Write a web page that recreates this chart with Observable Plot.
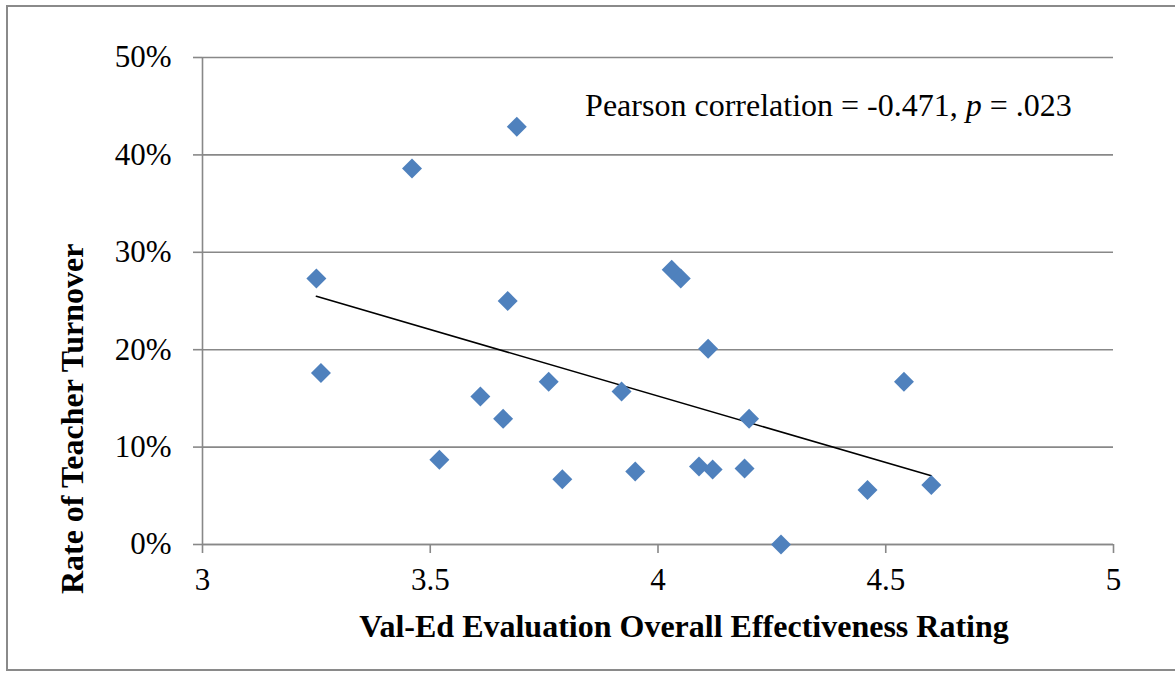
<!DOCTYPE html>
<html>
<head>
<meta charset="utf-8">
<script src="https://cdn.jsdelivr.net/npm/d3@7"></script>
<script src="https://cdn.jsdelivr.net/npm/@observablehq/plot@0.6"></script>
<style>
  html, body { margin: 0; padding: 0; background: #fff; overflow: hidden; }
  #wrap { position: relative; width: 1175px; height: 673px; overflow: hidden; }
  #border { position: absolute; left: 6px; top: 5px; width: 1200px; height: 666px; border: 2px solid #8a8a8a; box-sizing: border-box; pointer-events: none; }
  svg text { font-family: 'Liberation Serif', 'Times New Roman', serif; }
</style>
</head>
<body>
<div id="wrap"><div id="chart"></div><div id="border"></div></div>
<script>
const rating = [3.25, 3.26, 3.46, 3.52, 3.61, 3.66, 3.67, 3.69, 3.76, 3.79, 3.92, 3.95, 4.03, 4.05, 4.09, 4.11, 4.12, 4.19, 4.20, 4.27, 4.46, 4.54, 4.60];
const turnover = [0.273, 0.176, 0.386, 0.087, 0.152, 0.129, 0.250, 0.429, 0.167, 0.067, 0.157, 0.075, 0.282, 0.273, 0.080, 0.201, 0.077, 0.078, 0.129, 0.000, 0.056, 0.167, 0.061];
const xTicks = [3, 3.5, 4, 4.5, 5];
const yTicks = [0, 0.1, 0.2, 0.3, 0.4, 0.5];
const xLabel = "Val-Ed Evaluation Overall Effectiveness Rating";
const yLabel = "Rate of Teacher Turnover";
const annotation = "Pearson correlation = -0.471, p = .023";

const data = rating.map((r, i) => ({rating: r, turnover: turnover[i]}));
const font = "'Liberation Serif', 'Times New Roman', serif";
const gray = "#888888";

const chart = Plot.plot({
  width: 1175,
  height: 673,
  marginLeft: 202,
  marginRight: 62,
  marginTop: 57,
  marginBottom: 129,
  style: {fontFamily: font, fontSize: "31px", color: "#000", background: "transparent"},
  x: {domain: [3, 5], ticks: xTicks, tickFormat: d => String(d), label: null},
  y: {domain: [0, 0.5], ticks: yTicks, tickFormat: d3.format(".0%"), label: null},
  marks: [
    Plot.gridY(yTicks, {stroke: gray, strokeOpacity: 1, strokeWidth: 1.6}),
    Plot.ruleX([3], {stroke: gray, strokeWidth: 1.6}),
    Plot.ruleY([0], {stroke: gray, strokeWidth: 1.6}),
    Plot.axisX({ticks: xTicks, tickFormat: d => String(d), tickSize: 9, tickPadding: 14, stroke: gray, strokeWidth: 1.6, fontSize: 31, fontFamily: font, fill: "#000", label: null}),
    Plot.axisY({ticks: yTicks, tickFormat: d3.format(".0%"), tickSize: 9, tickPadding: 22, stroke: gray, strokeWidth: 1.6, fontSize: 31, fontFamily: font, fill: "#000", label: null}),
    Plot.linearRegressionY(data, {x: "rating", y: "turnover", ci: 0, stroke: "#000", strokeWidth: 1.6}),
    Plot.dot(data, {x: "rating", y: "turnover", symbol: "diamond2", r: 9, fill: "#4F81BD", stroke: "none"}),
    Plot.text([annotation], {x: 3.84, y: 0.45, text: d => d, textAnchor: "start", fontSize: 32, fontFamily: font, fill: "#000", className: "annot"}),
    Plot.text([xLabel], {frameAnchor: "bottom", dx: 26, dy: 92, text: d => d, fontSize: 32, fontFamily: font, fontWeight: "bold", fill: "#000"}),
    Plot.text([yLabel], {x: 3, y: 0.129, dx: -130, rotate: -90, text: d => d, fontSize: 32, fontFamily: font, fontWeight: "bold", fill: "#000"})
  ]
});

document.getElementById("chart").appendChild(chart);

// italicize the "p" in the annotation
d3.select(chart).selectAll("g.annot text").each(function() {
  const t = d3.select(this);
  const full = t.text();
  const idx = full.indexOf(", p =");
  if (idx < 0) return;
  t.text(null);
  t.append("tspan").text(full.slice(0, idx + 2));
  t.append("tspan").attr("font-style", "italic").text("p");
  t.append("tspan").text(full.slice(idx + 3));
});
</script>
</body>
</html>
